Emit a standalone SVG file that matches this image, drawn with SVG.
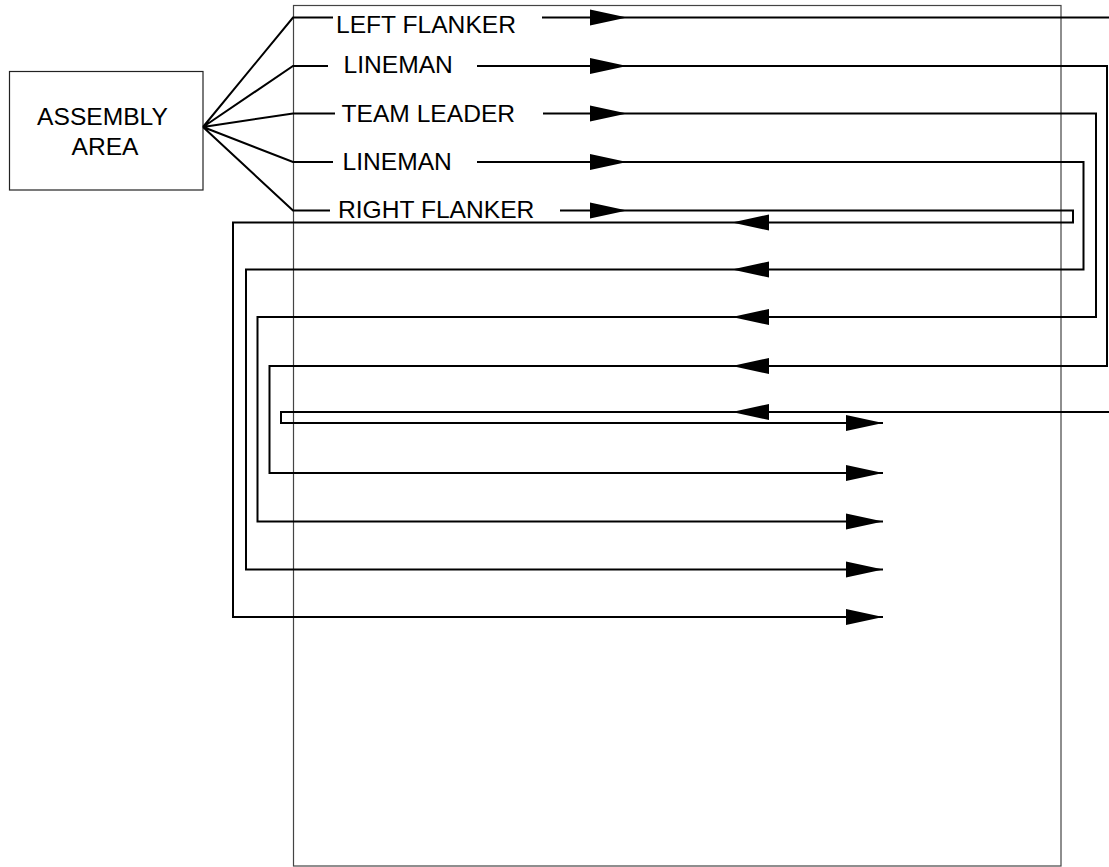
<svg xmlns="http://www.w3.org/2000/svg" width="1109" height="867" viewBox="0 0 1109 867">
<style>
.t{font-family:"Liberation Sans",Arial,sans-serif;font-size:24.6px;fill:#000}
.c{fill:none;stroke:#000;stroke-width:2;stroke-linejoin:miter}
.box{fill:#fff;stroke:#222;stroke-width:1.2}
.area{fill:none;stroke:#444;stroke-width:1.2}
.ah{fill:#000;stroke:none}
</style>
<defs>
<path id="ar" d="M0,0 L-37,-8 L-37,8 Z"/>
</defs>
<rect width="1109" height="867" fill="#fff"/>
<g id="field"><rect class="area" x="293.5" y="5.5" width="767.5" height="860.5"/></g>
<g id="assembly-area">
<rect class="box" x="9.5" y="71.5" width="193.5" height="118.5"/>
<text class="t" x="102.5" y="124.5" text-anchor="middle">ASSEMBLY</text>
<text class="t" x="105" y="155" text-anchor="middle">AREA</text>
</g>
<g id="left-flanker"><text class="t" x="336" y="33">LEFT FLANKER</text></g>
<g id="lineman-1"><text class="t" x="343.5" y="73">LINEMAN</text></g>
<g id="team-leader"><text class="t" x="341.5" y="122">TEAM LEADER</text></g>
<g id="lineman-2"><text class="t" x="342.5" y="170">LINEMAN</text></g>
<g id="right-flanker"><text class="t" x="338" y="218">RIGHT FLANKER</text></g>
<g id="connectors">
<path class="c" d="M203,127 L293,17.5 L333,17.5 M203,127 L293,66 L328,66 M203,127 L293,113.5 L335,113.5 M203,127 L293,162 L333,162 M203,127 L293,210.5 L330,210.5"/>
<path class="c" d="M542,17.5 L1109,17.5"/>
<path class="c" d="M1109,412 L281,412 L281,423 L883,423"/>
<path class="c" d="M477,66 L1107,66 L1107,366 L269.5,366 L269.5,473 L883,473"/>
<path class="c" d="M543,113.5 L1096,113.5 L1096,317 L257.5,317 L257.5,521.5 L883,521.5"/>
<path class="c" d="M477,162 L1083.5,162 L1083.5,269.5 L246,269.5 L246,569.5 L883,569.5"/>
<path class="c" d="M560,210.5 L1073,210.5 L1073,222.5 L233,222.5 L233,617 L883,617"/>
<g class="ah">
<use href="#ar" transform="translate(627,17.5)"/>
<use href="#ar" transform="translate(627,66)"/>
<use href="#ar" transform="translate(627,113.5)"/>
<use href="#ar" transform="translate(627,162)"/>
<use href="#ar" transform="translate(627,210.5)"/>
<use href="#ar" transform="translate(732,222.5) scale(-1,1)"/>
<use href="#ar" transform="translate(732,269.5) scale(-1,1)"/>
<use href="#ar" transform="translate(732,317) scale(-1,1)"/>
<use href="#ar" transform="translate(732,366) scale(-1,1)"/>
<use href="#ar" transform="translate(732,412) scale(-1,1)"/>
<use href="#ar" transform="translate(883,423)"/>
<use href="#ar" transform="translate(883,473)"/>
<use href="#ar" transform="translate(883,521.5)"/>
<use href="#ar" transform="translate(883,569.5)"/>
<use href="#ar" transform="translate(883,617)"/>
</g>
</g>
</svg>
